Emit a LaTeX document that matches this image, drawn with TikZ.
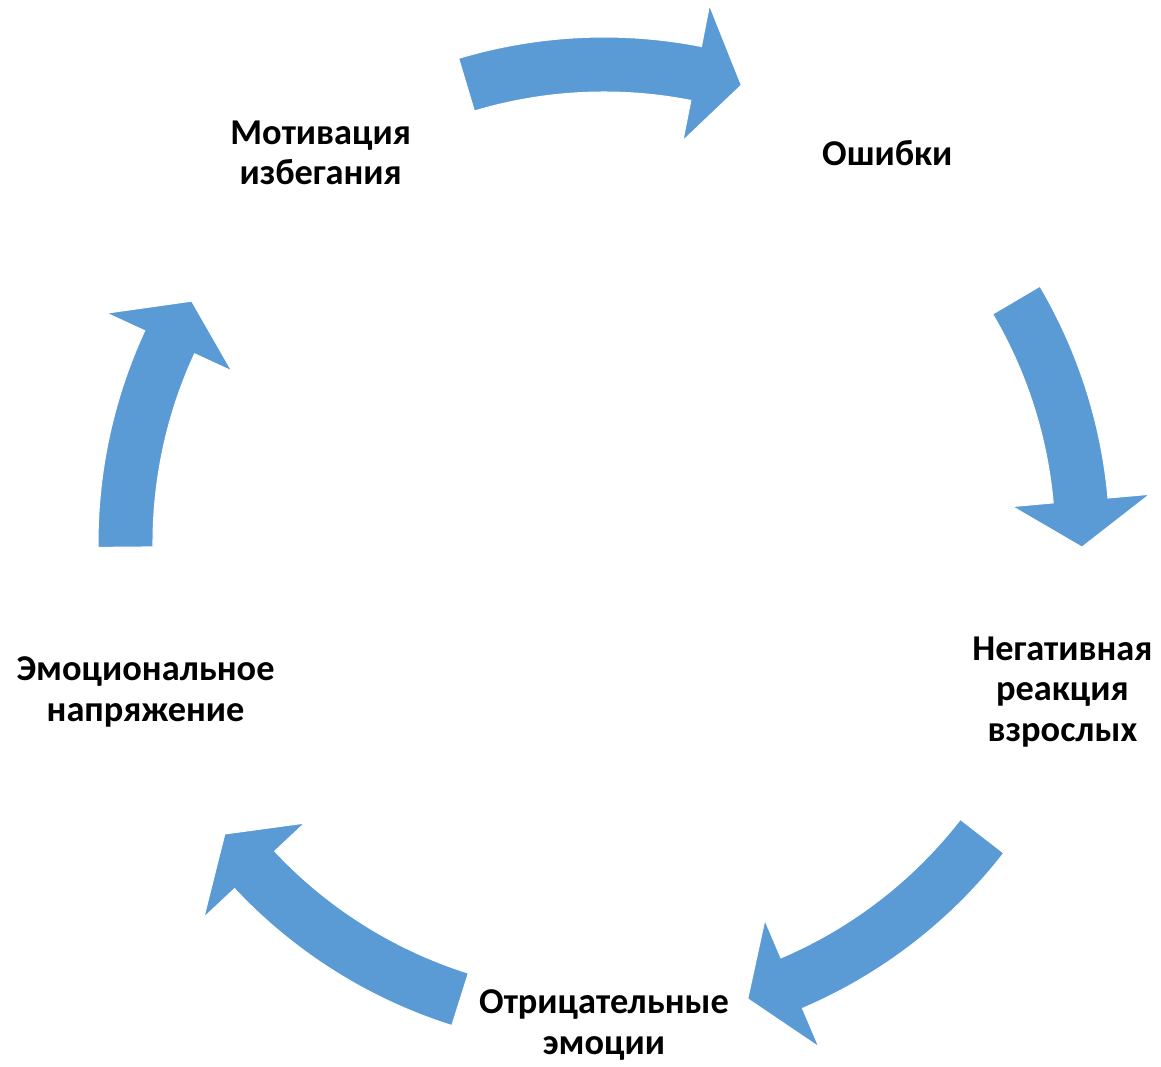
\documentclass[tikz,border=0pt]{standalone}
\usepackage{fontspec}
\setmainfont{Carlito}
\usepackage{xcolor}
\usepackage{tikz}
\usetikzlibrary{positioning}

\definecolor{arrowblue}{RGB}{91,155,213}

\begin{document}
\begin{tikzpicture}[x=0.02cm, y=0.02cm,
    label/.style={font=\fontsize{20.7}{23}\selectfont\bfseries, align=center},
    cyclearrow/.style={fill=arrowblue, draw=white, line width=0.6pt}]

    \useasboundingbox (-604,-524) rectangle (557,543);

    % Nodes
    \node [label] (errors) at (54:482) {Ошибки};
    \node [label] (reaction) at (-18:482) {Негативная\\реакция\\взрослых};
    \node [label] (emotions) at (-90:482) {Отрицательные\\эмоции};
    \node [label] (tension) at (198:482) {Эмоциональное\\напряжение};
    \node [label] (avoidance) at (126:482) {Мотивация\\избегания};

    % Arrows
    \foreach \s/\e [evaluate=\e as \h using \e+5.6] in
        {106.7/73.3, 30.5/-0.5, -37.8/-72.5, -107.5/-142.5, 180.5/149.6}
        \path [cyclearrow] (\s:506) arc [start angle=\s, end angle=\h, radius=506]
            -- (\h:548) -- (\e:478) -- (\h:410) -- (\h:451)
            arc [start angle=\h, end angle=\s, radius=451] -- cycle;

\end{tikzpicture}
\end{document}
